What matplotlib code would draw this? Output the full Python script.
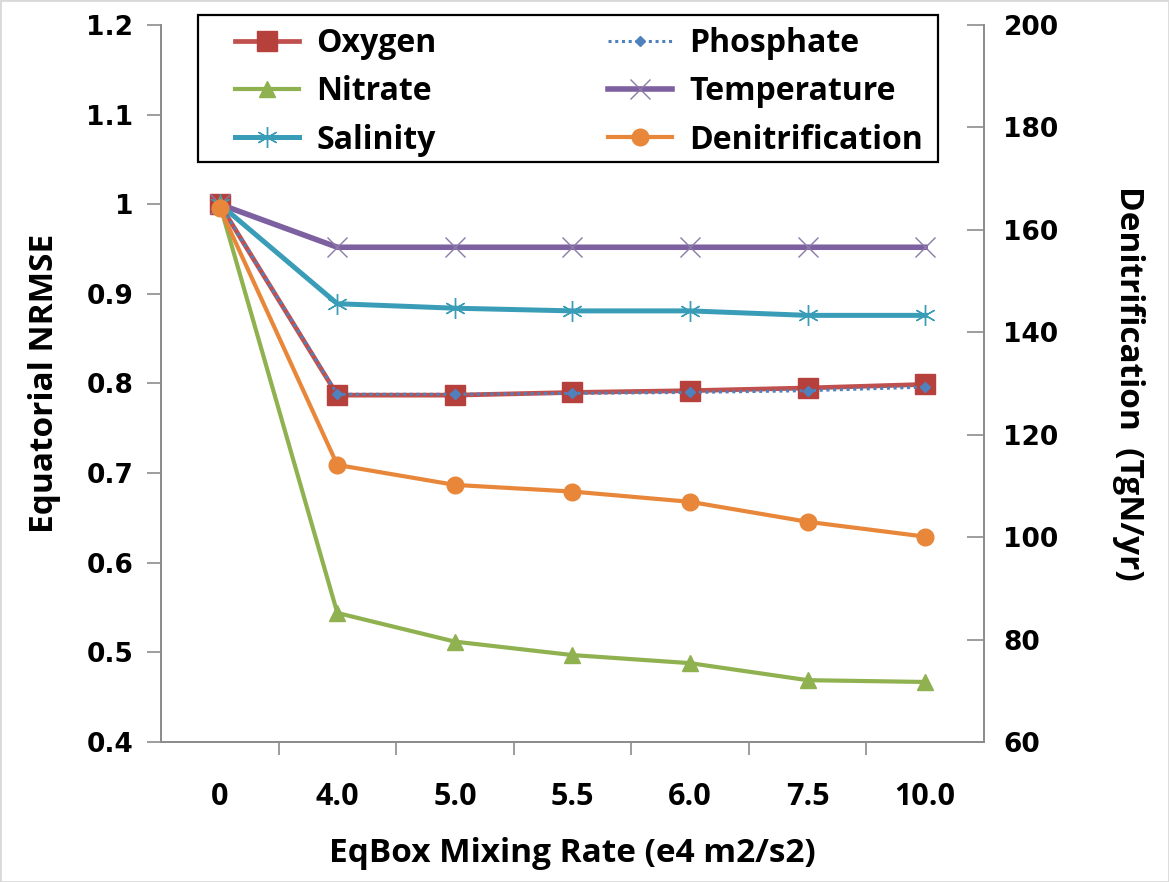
import matplotlib
matplotlib.use("Agg")
import matplotlib.pyplot as plt

# ---- data --------------------------------------------------------------------
rates = ["0", "4.0", "5.0", "5.5", "6.0", "7.5", "10.0"]
oxygen = [1.0, 0.787, 0.787, 0.790, 0.792, 0.795, 0.799]
phosphate = [1.0, 0.788, 0.788, 0.789, 0.790, 0.792, 0.796]
nitrate = [1.0, 0.544, 0.512, 0.497, 0.488, 0.469, 0.467]
temperature = [1.0, 0.952, 0.952, 0.952, 0.952, 0.952, 0.952]
salinity = [1.0, 0.889, 0.884, 0.881, 0.881, 0.876, 0.876]
denitrification = [164.3, 114.1, 110.2, 108.9, 106.9, 103.0, 100.1]

LABEL_FONT = "Open Sans"
TICK_FONT = "DejaVu Sans"
GREY = "#8c8c8c"
W, H = 1169, 882

fig = plt.figure(figsize=(W / 100, H / 100), dpi=100)
ax = fig.add_axes([0.1377, 0.1587, 0.704, 0.813])
ax2 = ax.twinx()

x = list(range(len(rates)))

h_oxy, = ax.plot(x, oxygen, color="#C0504D", lw=3.4, marker="s", ms=14,
                 mfc="#B5403C", mec="#B5403C", label="Oxygen", zorder=3)
h_pho, = ax.plot(x, phosphate, color="#4F81BD", lw=2.2, ls=(0, (1, 1.2)),
                 marker="D", ms=5.5, mfc="#4F81BD", mec="#4F81BD",
                 label="Phosphate", zorder=4)
h_nit, = ax.plot(x, nitrate, color="#8FB150", lw=3.0, marker="^", ms=12,
                 mfc="#8FB150", mec="#8FB150", label="Nitrate", zorder=3)
h_tem, = ax.plot(x, temperature, color="#7D60A0", lw=4.0, marker="x", ms=14,
                 mew=1.0, mec="#8a7aa8", label="Temperature", zorder=3)
h_sal, = ax.plot(x, salinity, color="#3A9DB8", lw=3.6, marker=(6, 2, 0), ms=15,
                 mew=1.0, mec="#3A9DB8", label="Salinity", zorder=3)
h_den, = ax2.plot(x, denitrification, color="#E8873A", lw=3.0, marker="o", ms=12,
                  mfc="#E8873A", mec="#E8873A", label="Denitrification", zorder=3)

# ---- axes ---------------------------------------------------------------------
ax.set_xlim(-0.5, len(rates) - 0.5)
ax.set_ylim(0.4, 1.2)
ax.set_yticks([0.4, 0.5, 0.6, 0.7, 0.8, 0.9, 1.0, 1.1, 1.2])
ax.set_yticklabels(["0.4", "0.5", "0.6", "0.7", "0.8", "0.9", "1", "1.1", "1.2"])
ax.set_xticks(x)
ax.set_xticklabels(rates)
ax.set_xticks([i + 0.5 for i in range(len(rates) - 1)], minor=True)
ax.tick_params(axis="x", which="major", length=0, pad=29)
ax.tick_params(axis="x", which="minor", length=9, width=1.2, color=GREY, direction="out")
ax.tick_params(axis="y", length=10, width=1.2, color=GREY, direction="out", pad=10)

ax2.set_ylim(60, 200)
ax2.set_yticks(range(60, 201, 20))
ax2.tick_params(axis="y", length=12, width=1.2, color=GREY, direction="in", pad=14)

for a in (ax, ax2):
    for s in a.spines.values():
        s.set_color(GREY)
        s.set_linewidth(1.3)
    a.spines["top"].set_visible(False)
    for lab in a.get_yticklabels():
        lab.set_fontfamily(TICK_FONT)
        lab.set_fontweight("bold")
        lab.set_fontsize(19)
for lab in ax.get_xticklabels():
    lab.set_fontfamily(LABEL_FONT)
    lab.set_fontweight("bold")
    lab.set_fontsize(22)

ax.set_xlabel("EqBox Mixing Rate (e4 m2/s2)", fontfamily=LABEL_FONT,
              fontweight="bold", fontsize=24, labelpad=18)
ax.set_ylabel("Equatorial NRMSE", fontfamily=LABEL_FONT, fontweight="bold",
              fontsize=24, labelpad=18)
ax2.set_ylabel("Denitrification  (TgN/yr)", fontfamily=LABEL_FONT,
               fontweight="bold", fontsize=24, rotation=-90, labelpad=62)

# legend: entries laid out by matplotlib, box drawn as a plain frame
handles = [h_oxy, h_nit, h_sal, h_pho, h_tem, h_den]
leg = ax2.legend(handles=handles, labels=[h.get_label() for h in handles],
                 ncol=2, loc="upper left", bbox_to_anchor=(235 / W, 1 - 27 / H),
                 bbox_transform=fig.transFigure, frameon=False,
                 prop={"family": LABEL_FONT, "weight": "bold", "size": 23},
                 handlelength=2.0, columnspacing=5.35, labelspacing=0.48,
                 borderpad=0, borderaxespad=0, handletextpad=0.55)
leg.set_zorder(10)
frame = plt.Rectangle((198 / W, 1 - 162 / H), 740 / W, 147 / H,
                      transform=fig.transFigure, facecolor="white",
                      edgecolor="black", lw=1.6, zorder=9, clip_on=False)
ax2.add_artist(frame)

fig.patches.append(plt.Rectangle((0, 0), 1, 1, transform=fig.transFigure,
                                 fill=False, edgecolor="#d9d9d9", lw=2))

fig.savefig("out.png", dpi=100)
